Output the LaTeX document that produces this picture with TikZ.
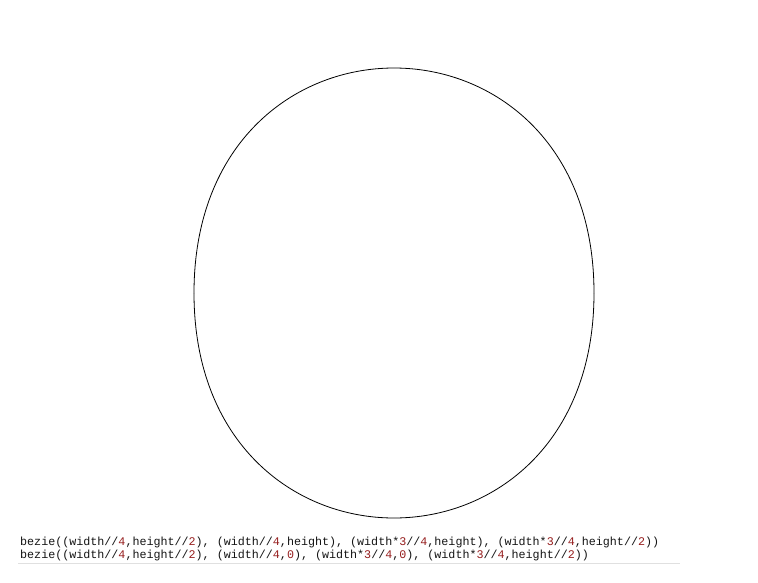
\documentclass[tikz,border=0pt]{standalone}
\usepackage{fontspec}
\setmonofont{Liberation Mono}
\definecolor{numred}{RGB}{150,30,30}
\definecolor{codegray}{RGB}{20,20,20}
\newcommand{\dg}[1]{\textcolor{numred}{#1}}
\tikzset{
  codeline/.style={anchor=base west, inner sep=0pt, font=\ttfamily\fontsize{11.7pt}{13pt}\selectfont, text=codegray},
  curveline/.style={draw=black, line width=0.8pt}
}
\begin{document}
\begin{tikzpicture}[x=1pt,y=-1pt]
\useasboundingbox[fill=white] (0,0) rectangle (758,582);
% Bezier curves
\draw[curveline] (194,293) .. controls (194,-7) and (594,-7) .. (594,293);
\draw[curveline] (194,293) .. controls (194,593) and (594,593) .. (594,293);
% code text
\node[codeline] (l1) at (20,545) {bezie((width//\dg{4},height//\dg{2}), (width//\dg{4},height), (width*\dg{3}//\dg{4},height), (width*\dg{3}//\dg{4},height//\dg{2}))};
\node[codeline] (l2) at (20,558) {bezie((width//\dg{4},height//\dg{2}), (width//\dg{4},\dg{0}), (width*\dg{3}//\dg{4},\dg{0}), (width*\dg{3}//\dg{4},height//\dg{2}))};
\draw[black!12, line width=0.6pt] (18,563.5) -- (680,563.5);
\end{tikzpicture}
\end{document}
